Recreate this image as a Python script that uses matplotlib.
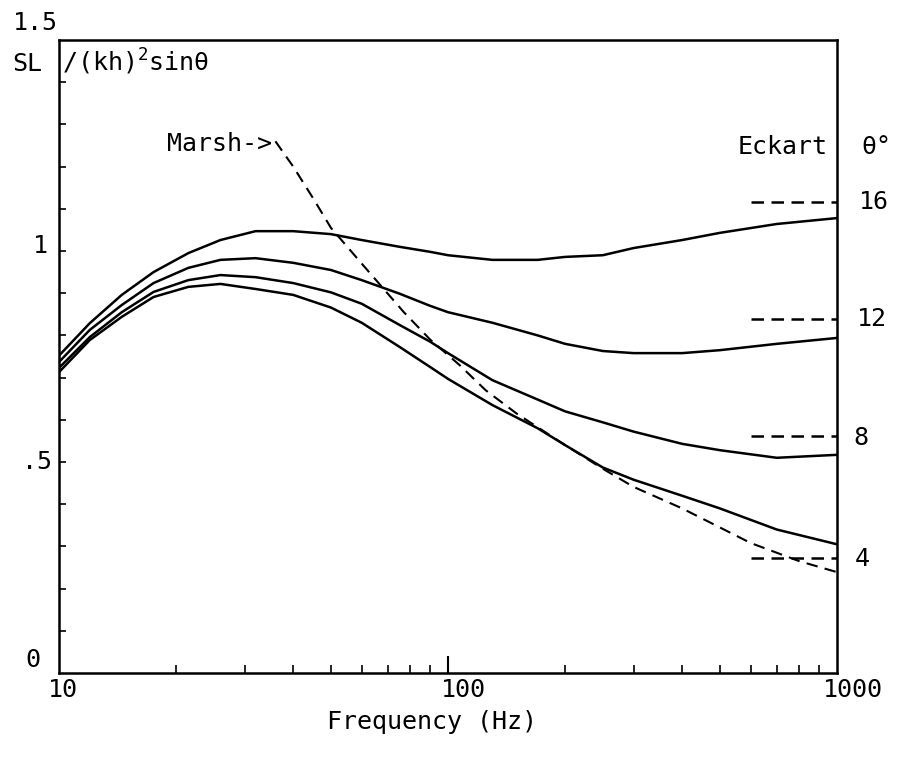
import matplotlib
matplotlib.use("Agg")
import matplotlib.pyplot as plt
from matplotlib.ticker import FixedLocator, NullFormatter

plt.rcParams['font.family'] = ['DejaVu Sans Mono', 'DejaVu Sans']
plt.rcParams['mathtext.fontset'] = 'custom'
plt.rcParams['mathtext.rm'] = 'DejaVu Sans Mono'

# Normalised source level vs frequency, one curve per grazing angle (deg)
freq = [10, 12, 14.5, 17.5, 21.5, 26, 32, 40, 50, 60, 75, 90, 100,
        130, 170, 200, 250, 300, 400, 500, 700, 1000]
sl_16 = [0.752, 0.829, 0.896, 0.950, 0.995, 1.026, 1.047, 1.047, 1.040, 1.026,
         1.010, 0.998, 0.990, 0.979, 0.979, 0.986, 0.990, 1.007, 1.026, 1.043,
         1.064, 1.078]
sl_12 = [0.737, 0.813, 0.872, 0.924, 0.960, 0.979, 0.983, 0.972, 0.955, 0.931,
         0.899, 0.870, 0.855, 0.830, 0.800, 0.780, 0.763, 0.758, 0.758, 0.765,
         0.780, 0.794]
sl_8 = [0.723, 0.796, 0.855, 0.903, 0.931, 0.943, 0.938, 0.924, 0.902, 0.875,
        0.825, 0.785, 0.758, 0.694, 0.648, 0.620, 0.594, 0.572, 0.543, 0.528,
        0.510, 0.517]
sl_4 = [0.713, 0.789, 0.844, 0.891, 0.915, 0.922, 0.910, 0.896, 0.866, 0.830,
        0.773, 0.725, 0.697, 0.635, 0.580, 0.540, 0.487, 0.458, 0.420, 0.390,
        0.340, 0.305]

# Marsh model
marsh_freq = [36, 40, 45, 50, 62, 77, 90, 107, 125, 150, 200, 250, 300, 400,
              600, 800, 1000]
marsh_sl = [1.26, 1.20, 1.125, 1.055, 0.955, 0.855, 0.79, 0.73, 0.67, 0.615,
            0.54, 0.484, 0.441, 0.39, 0.308, 0.265, 0.239]

# Eckart limits for each angle
eckart_angles = ['16', '12', '8', '4']
eckart_sl = [1.116, 0.840, 0.562, 0.273]
eckart_span = [600, 1000]

W, H = 897, 757
fig = plt.figure(figsize=(W / 100, H / 100), dpi=100)
ax = fig.add_axes([59 / W, 1 - 673 / H, (837 - 59) / W, (673 - 40) / H])

for series in (sl_16, sl_12, sl_8, sl_4):
    ax.plot(freq, series, color='black', lw=1.8)

ax.plot(marsh_freq, marsh_sl, color='black', lw=1.5, dashes=(5.5, 3.5))

for val in eckart_sl:
    ax.plot(eckart_span, [val, val], color='black', lw=1.8, dashes=(5, 3))

ax.set_xscale('log')
ax.set_xlim(10, 1000)
ax.set_ylim(0, 1.5)

for s in ax.spines.values():
    s.set_linewidth(1.8)

ax.xaxis.set_major_locator(FixedLocator([100]))
ax.xaxis.set_minor_locator(FixedLocator([20, 30, 40, 50, 60, 70, 80, 90,
                                         200, 300, 400, 500, 600, 700, 800, 900]))
ax.xaxis.set_major_formatter(NullFormatter())
ax.xaxis.set_minor_formatter(NullFormatter())
ax.yaxis.set_major_locator(FixedLocator([round(0.1 * i, 1) for i in range(1, 15)]))
ax.yaxis.set_major_formatter(NullFormatter())
ax.tick_params(axis='x', which='major', direction='in', length=12, width=1.5)
ax.tick_params(axis='x', which='minor', direction='in', length=6, width=1.2)
ax.tick_params(axis='y', which='major', direction='in', length=5, width=1.2)

fs = 18


def ftext(px, py, s, **kw):
    fig.text(px / W, 1 - py / H, s, fontsize=kw.pop('fontsize', fs), **kw)


# axis numbers
ftext(58, 23, '1.5', ha='right', va='center')
ftext(40, 246, '1', ha='center', va='center')
ftext(37, 462, '.5', ha='center', va='center')
ftext(33, 660, '0', ha='center', va='center')
ftext(48, 690, '10', ha='left', va='center')
ftext(441, 690, '100', ha='left', va='center')
ftext(823, 690, '1000', ha='left', va='center')
ftext(432, 722, 'Frequency (Hz)', ha='center', va='center')

# y quantity
ftext(12, 64, 'SL', ha='left', va='center')
ftext(62, 62, '/(kh)$^2$sinθ', ha='left', va='center')

# annotations
ftext(167, 144, 'Marsh->', ha='left', va='center')
ftext(828, 147, 'Eckart', ha='right', va='center')
ftext(861, 147, 'θ°', ha='left', va='center')
for label, py, px in zip(eckart_angles, [202, 319, 438, 559], [859, 857, 853, 855]):
    ftext(px, py, label, ha='left', va='center')

fig.savefig('out.png', dpi=100, facecolor='white')
